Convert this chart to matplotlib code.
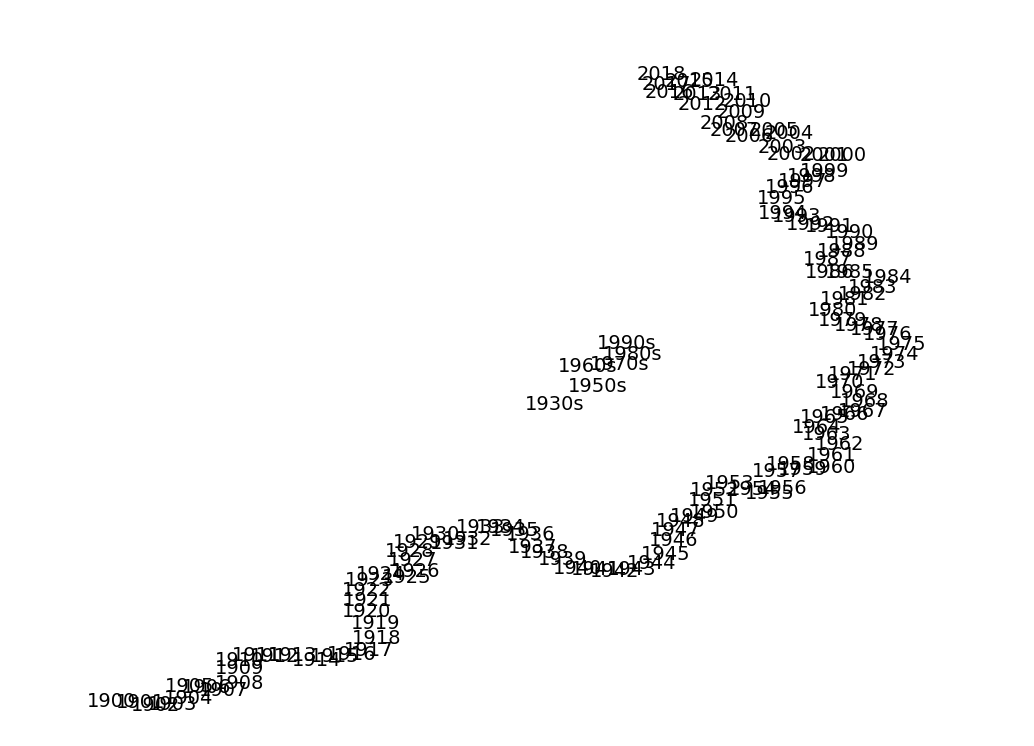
import numpy as np
import matplotlib
matplotlib.use('Agg')
import matplotlib.pyplot as plt

years = list(range(1900, 2019))

# position of each yearly label (index units)
x_vals = [8.7, 11.6, 13.1, 14.8, 16.4, 16.5, 18.2, 19.9, 21.5, 21.5,
          21.5, 23.2, 25.0, 26.8, 29.2, 31.0, 32.7, 34.4, 35.2, 35.1,
          34.2, 34.3, 34.2, 34.5, 35.6, 38.2, 39.1, 38.8, 38.5, 39.3,
          41.1, 43.0, 44.3, 45.6, 47.6, 49.0, 50.6, 50.8, 52.0, 53.8,
          55.3, 57.1, 59.0, 60.7, 62.7, 64.1, 64.9, 65.1, 65.6, 67.0,
          69.0, 68.8, 69.0, 70.5, 72.8, 74.5, 75.8, 75.2, 76.6, 77.8,
          80.7, 80.7, 81.5, 80.2, 79.2, 80.0, 82.0, 83.8, 84.0, 83.0,
          81.5, 82.8, 84.7, 85.7, 87.0, 87.7, 86.3, 85.0, 83.4, 81.8,
          80.8, 82.0, 83.8, 84.8, 86.3, 82.5, 80.5, 80.3, 81.7, 83.0,
          82.5, 80.5, 78.6, 77.2, 75.8, 75.7, 76.5, 77.8, 78.7, 80.0,
          81.8, 80.0, 76.7, 75.8, 76.5, 75.0, 72.5, 71.0, 70.0, 71.7,
          72.3, 70.8, 67.8, 67.3, 69.0, 66.5, 64.5, 64.2, 63.7]
y_vals = [3.9, 3.8, 3.5, 3.6, 4.2, 5.4, 5.3, 5.0, 5.7, 7.2,
          8.0, 8.5, 8.4, 8.5, 8.0, 8.4, 8.6, 9.0, 10.2, 11.7,
          12.9, 14.0, 15.0, 16.0, 16.6, 16.3, 16.9, 18.0, 18.9, 19.8,
          20.6, 19.7, 20.1, 21.3, 21.3, 21.0, 20.6, 19.3, 18.8, 18.1,
          17.2, 17.1, 16.9, 17.1, 17.7, 18.6, 20.0, 21.0, 21.9, 22.4,
          22.8, 24.0, 25.0, 25.7, 25.1, 24.7, 25.2, 26.9, 27.6, 27.1,
          27.3, 28.5, 29.6, 30.6, 31.3, 32.3, 32.6, 32.9, 33.9, 34.8,
          35.8, 36.6, 37.1, 37.8, 38.6, 39.6, 40.6, 41.1, 41.5, 42.0,
          43.0, 44.1, 44.6, 45.3, 46.3, 46.8, 46.8, 48.1, 48.9, 49.6,
          50.8, 51.4, 51.6, 52.4, 52.7, 54.2, 55.3, 55.9, 56.4, 56.9,
          58.5, 58.5, 58.6, 59.3, 60.7, 61.0, 60.4, 61.0, 61.7, 62.8,
          63.9, 64.6, 63.6, 64.6, 66.0, 65.9, 64.8, 65.6, 66.6]

decades = ['1930s', '1950s', '1960s', '1970s', '1980s', '1990s']
dec_x = [52.5, 56.8, 55.8, 59.0, 60.3, 59.7]
dec_y = [33.6, 35.4, 37.4, 37.6, 38.6, 39.7]

fig = plt.figure(figsize=(10.34, 7.46), dpi=100)
ax = fig.add_axes([0, 0, 1, 1])
ax.set_xlim(0, 103.4)
ax.set_ylim(0, 74.6)
ax.axis('off')

for yr, xv, yv in zip(years, x_vals, y_vals):
    ax.text(xv, yv, str(yr), fontsize=14)

for lab, xv, yv in zip(decades, dec_x, dec_y):
    ax.text(xv, yv, lab, fontsize=14)

fig.savefig('out.png', dpi=100, facecolor='white')
